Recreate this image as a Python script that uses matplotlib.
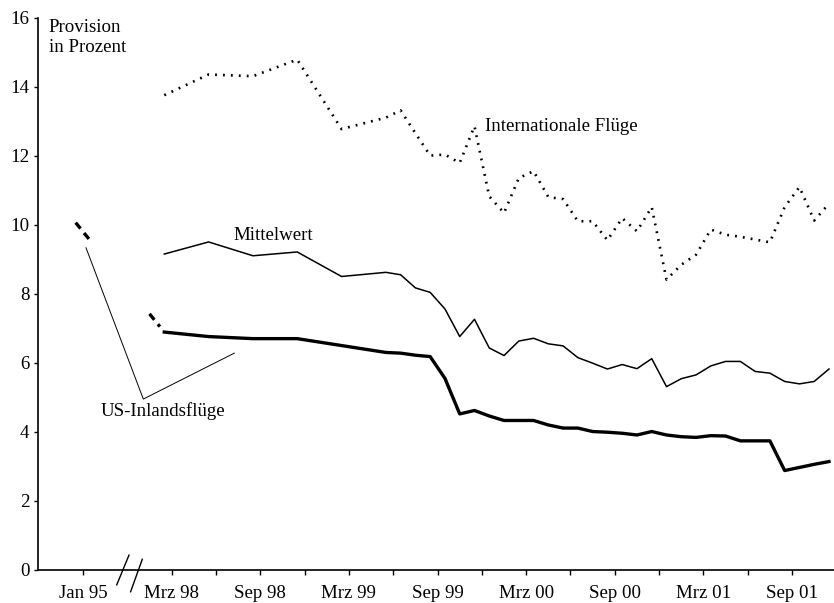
import matplotlib
matplotlib.use("Agg")
import matplotlib.pyplot as plt
import numpy as np

plt.rcParams['font.family'] = ['Liberation Serif', 'DejaVu Serif']

# x = months relative to March 1998 (tick "Mrz 98" = 0)
months_quarterly = [-0.5, 2.5, 5.5, 8.5, 11.5, 14.5]
months_monthly = [m + 0.5 for m in range(15, 45)]
months = months_quarterly + months_monthly

international = [13.75, 14.35, 14.30, 14.78, 12.77, 13.10,
                 13.31, 12.65, 12.00, 12.03, 11.79, 12.85, 10.82, 10.34, 11.35, 11.55,
                 10.80, 10.74, 10.10, 10.10, 9.55, 10.19, 9.81, 10.51, 8.41, 8.84,
                 9.13, 9.86, 9.71, 9.65, 9.57, 9.49, 10.51, 11.09, 10.12, 10.61]

mittelwert = [9.15, 9.50, 9.10, 9.21, 8.50, 8.62,
              8.55, 8.17, 8.04, 7.56, 6.76, 7.26, 6.43, 6.21, 6.63, 6.71,
              6.55, 6.49, 6.15, 5.99, 5.82, 5.95, 5.83, 6.12, 5.31, 5.54,
              5.65, 5.91, 6.04, 6.04, 5.75, 5.70, 5.46, 5.39, 5.46, 5.82]

us_inland = [6.89, 6.76, 6.70, 6.70, 6.50, 6.30,
             6.28, 6.22, 6.18, 5.55, 4.52, 4.62, 4.46, 4.33, 4.33, 4.33,
             4.20, 4.11, 4.11, 4.01, 3.99, 3.96, 3.91, 4.01, 3.91, 3.86,
             3.84, 3.89, 3.88, 3.74, 3.74, 3.74, 2.88, 2.97, 3.06, 3.14]

# January 1995 value (before the axis break)
jan95_month = -6.5
jan95_us = 10.06

xtick_pos = [-6] + list(range(0, 45, 3))
xtick_labels = ["Jan 95"] + [
    {0: "Mrz 98", 6: "Sep 98", 12: "Mrz 99", 18: "Sep 99", 24: "Mrz 00",
     30: "Sep 00", 36: "Mrz 01", 42: "Sep 01"}.get(m, "") for m in range(0, 45, 3)]
ytick_pos = list(range(0, 17, 2))

fig = plt.figure(figsize=(8.34, 6.03), dpi=100)
ax = fig.add_axes([38/834, 1 - 570/603, 1 - 38/834, 552.5/603])

# lines
ax.plot(months, international, color='black', lw=1.9,
        linestyle=(0, (0.7, 2.3)))
ax.plot(months, mittelwert, color='black', lw=1.1)
ax.plot(months, us_inland, color='black', lw=2.4, solid_joinstyle='round')

# dashed connection Jan 95 -> first US value, only ends visible (axis break)
x0, y0 = jan95_month, jan95_us
x1, y1 = months[0], us_inland[0]
for f0, f1 in [(0.0, 1/6), (5/6, 0.95)]:
    xs = [x0 + (x1 - x0) * f0, x0 + (x1 - x0) * f1]
    ys = [y0 + (y1 - y0) * f0, y0 + (y1 - y0) * f1]
    ax.plot(xs, ys, color='black', lw=2.4, linestyle=(0, (2.3, 1.7)))

# leader lines for US-Inlandsflüge
ax.plot([-5.8, -1.92, 4.24], [9.33, 4.95, 6.28], color='black', lw=0.7)

fs = 13.6
ax.text(21.2, 12.84, "Internationale Flüge", fontsize=fs, va='center', ha='left')
ax.text(6.86, 9.68, "Mittelwert", fontsize=fs, va='center', ha='center')
ax.text(-0.59, 4.61, "US-Inlandsflüge", fontsize=fs, va='center', ha='center')
ax.text(-8.31, 15.95, "Provision\nin Prozent", fontsize=fs, va='top', ha='left',
        linespacing=1.25)

ax.set_xlim(-9.05, 44.84)
ax.set_ylim(0, 16)
ax.set_xticks(xtick_pos)
ax.set_xticklabels(xtick_labels, fontsize=fs)
ax.set_yticks(ytick_pos)
ax.set_yticklabels([str(v) for v in ytick_pos], fontsize=fs)
ax.tick_params(axis='x', direction='out', length=3.6, width=1, pad=7)
ax.tick_params(axis='y', direction='out', length=3.2, width=1, pad=3)
for s in ['top', 'right']:
    ax.spines[s].set_visible(False)
for s in ['left', 'bottom']:
    ax.spines[s].set_linewidth(1.2)

# axis break marks
ax.plot([-3.72, -2.89], [-0.43, 0.43], color='black', lw=1.0, clip_on=False)
ax.plot([-2.78, -1.99], [-0.63, 0.31], color='black', lw=1.0, clip_on=False)

fig.savefig("out.png", dpi=100)
